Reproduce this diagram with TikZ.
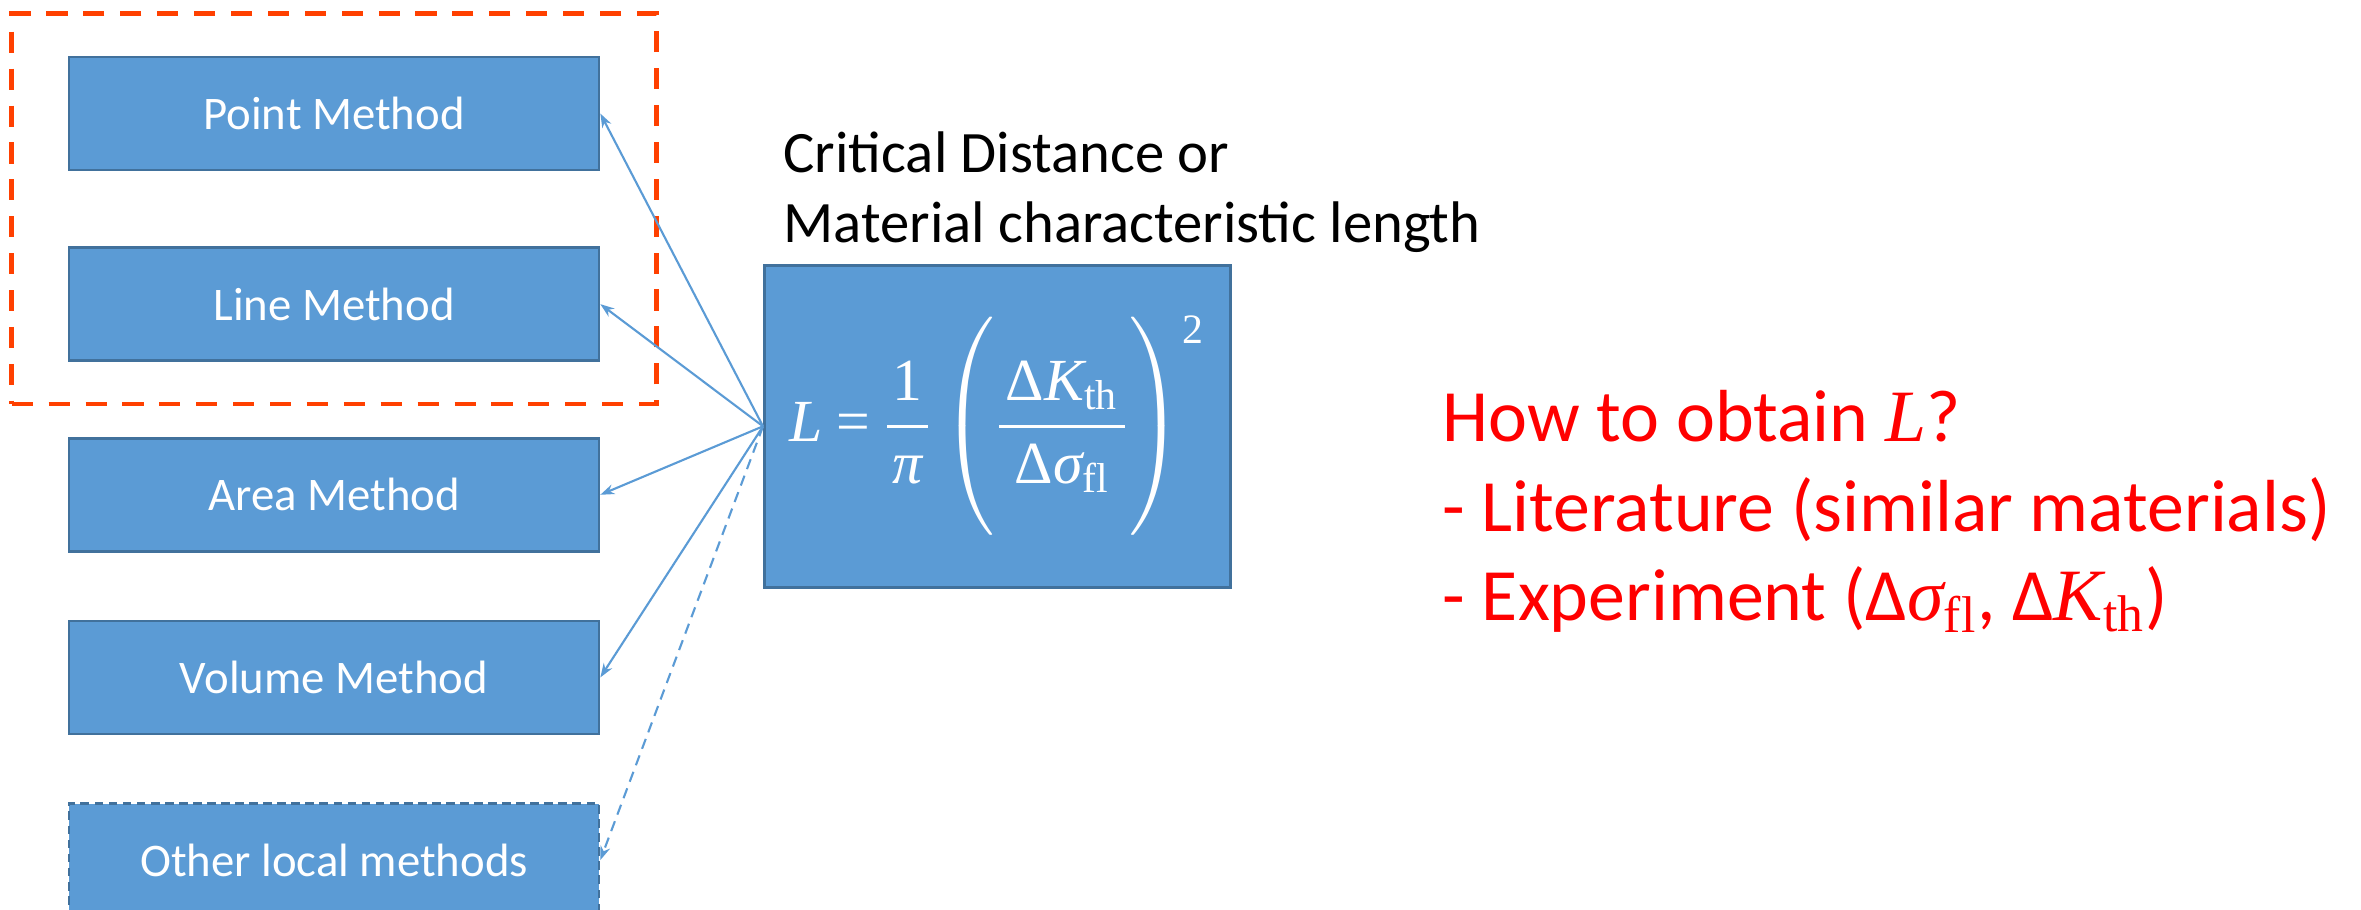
\documentclass[tikz,border=0pt]{standalone}
\usepackage{amsmath}
\usepackage{fontspec}
\setmainfont{Carlito}
\newfontfamily\tms{Liberation Serif}
\usetikzlibrary{matrix,fit,positioning,arrows.meta}
\definecolor{boxblue}{RGB}{91,155,213}
\definecolor{boxedge}{RGB}{65,113,156}
\definecolor{grpred}{RGB}{255,64,0}
\definecolor{txtred}{RGB}{255,0,0}
\newcommand{\mi}[1]{\text{\tms\itshape #1}}
\newcommand{\mr}[1]{\text{\tms #1}}
\newcommand{\numstrut}{\rule{0pt}{1.3em}}
\newcommand{\denstrut}{\rule[-0.8em]{0pt}{0.8em}}
\newcommand{\sqmark}{\smash{\lower3pt\hbox{$\scriptstyle\mr{2}$}}}
\tikzset{
  methodbox/.style={draw=boxedge, fill=boxblue, line width=0.75pt, text=white, minimum width=5.3cm, minimum height=1.13cm, inner sep=0pt, font=\fontsize{13.3}{16}\selectfont},
  link/.style={draw=boxblue, line width=0.6pt, -{Stealth[length=0.14cm,width=0.1cm]}},
  redline/.style={anchor=base west, inner sep=0pt, text=txtred, font=\fontsize{21}{25}\selectfont},
  blackline/.style={anchor=base west, inner sep=0pt, font=\fontsize{16.7}{20}\selectfont},
}

\begin{document}
\begin{tikzpicture}
    \useasboundingbox (0,0) rectangle (23.61,-9.10);
    \matrix (m) [matrix of nodes, row sep=0.67cm, nodes={methodbox}, anchor=north west, inner sep=0pt] at (0.67,-0.55) {
        |(point)| Point Method \\[0.08cm]
        |(line)| Line Method \\[0.08cm]
        |(area)| Area Method \\
        |(volume)| Volume Method \\
        |[dash pattern=on 2.5pt off 1.5pt](other)| Other local methods \\
    };
    \node (grp) [fit=(point)(line), draw=grpred, line width=1.3pt, dash pattern=on 6pt off 4.5pt, inner xsep=0.56cm, inner ysep=0.42cm] {};
    \node (formula) [methodbox, anchor=north west, minimum width=4.66cm, minimum height=3.22cm, font=\fontsize{17}{20}\selectfont] at (7.63,-2.64)
        {$\displaystyle \mi{L} \mkern4mu\mr{=}\mkern4mu \frac{\mkern1.5mu\mr{1}\mkern1.5mu}{\mkern1.5mu\mi{π}\mkern1.5mu}\left(\frac{\numstrut\mkern2mu\mr{Δ}\mi{K}_{\mr{th}}\mkern2mu}{\denstrut\mkern2mu\mr{Δ}\mi{σ}_{\mr{fl}}\mkern2mu}\right)^{\sqmark}$};
    \node (crit) [blackline] at (7.83,-1.73) {Critical Distance or};
    \node (charlen) [blackline] at (7.83,-2.43) {Material characteristic length};
    \node (how) [redline] at (14.42,-4.42) {How to obtain {\tms\itshape L}?};
    \node (lit) [redline] at (14.42,-5.32) {- Literature (similar materials)};
    \node (exp) [redline] at (14.42,-6.21) {- Experiment (Δ$\mi{σ}_{\mr{fl}}$, Δ$\mi{K}_{\mr{th}}$)};
    \foreach \t in {point,line,area,volume}
        \draw[link] (formula.west) -- (\t.east);
    \draw[link, dash pattern=on 3pt off 2pt] (formula.west) -- (other.east);
\end{tikzpicture}
\end{document}
